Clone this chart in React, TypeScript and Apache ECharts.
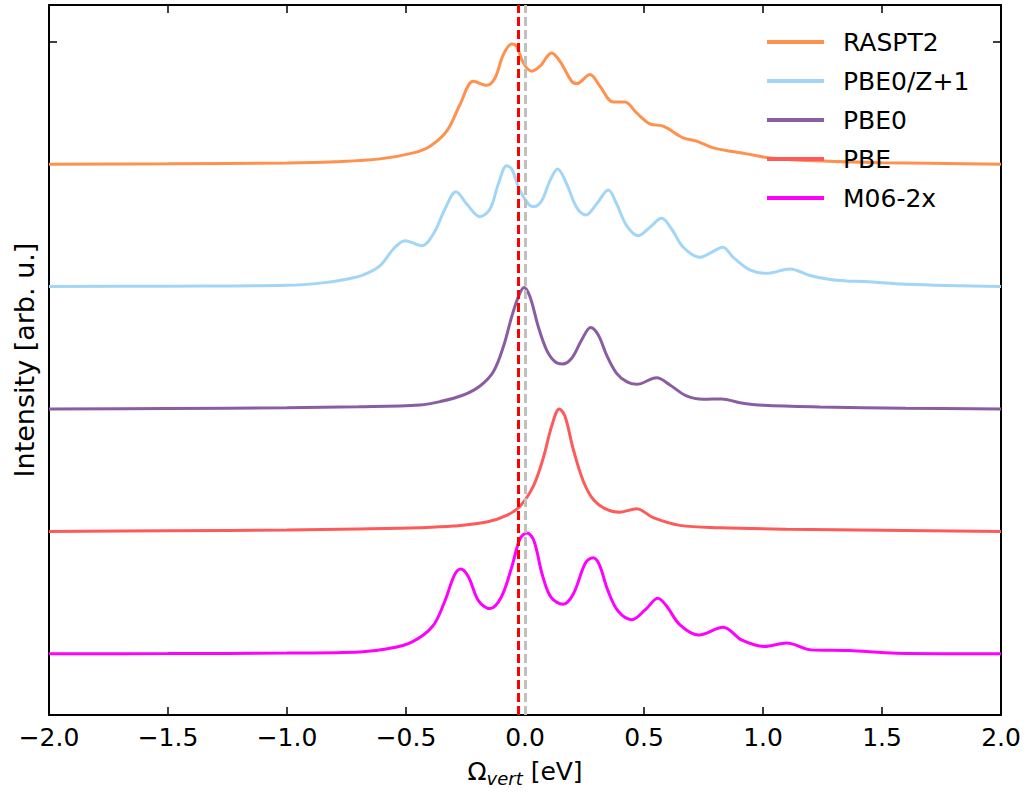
import React, { useEffect, useRef } from "react";
import * as echarts from "echarts";

// x (eV), normalised intensity
const raspt2: number[][] = [
  [-2.0, 0.0], [-1.5, 0.003], [-1.0, 0.01], [-0.8, 0.02], [-0.609, 0.043], [-0.469, 0.092],
  [-0.399, 0.147], [-0.329, 0.269], [-0.273, 0.487], [-0.217, 0.677], [-0.161, 0.644],
  [-0.126, 0.704], [-0.091, 0.895], [-0.056, 0.981], [-0.035, 0.962], [-0.007, 0.826],
  [0.028, 0.759], [0.063, 0.8], [0.112, 0.908], [0.147, 0.84], [0.196, 0.677], [0.217, 0.658],
  [0.273, 0.732], [0.315, 0.636], [0.371, 0.508], [0.42, 0.508], [0.469, 0.418], [0.525, 0.329],
  [0.581, 0.31], [0.665, 0.215], [0.721, 0.188], [0.791, 0.133], [0.931, 0.084], [1.029, 0.051],
  [1.25, 0.025], [1.5, 0.012], [2.0, 0.0],
];
const pbe0z1: number[][] = [
  [-2.0, 0.0], [-1.5, 0.003], [-1.0, 0.01], [-0.85, 0.03], [-0.75, 0.06], [-0.679, 0.095],
  [-0.609, 0.171], [-0.553, 0.307], [-0.504, 0.375], [-0.434, 0.334], [-0.385, 0.43],
  [-0.336, 0.634], [-0.29, 0.775], [-0.245, 0.675], [-0.189, 0.571], [-0.147, 0.634],
  [-0.112, 0.838], [-0.077, 0.987], [-0.056, 0.96], [-0.021, 0.783], [0.014, 0.675],
  [0.038, 0.653], [0.07, 0.701], [0.105, 0.865], [0.137, 0.96], [0.175, 0.838], [0.217, 0.647],
  [0.256, 0.585], [0.301, 0.675], [0.35, 0.789], [0.385, 0.675], [0.427, 0.498], [0.476, 0.416],
  [0.525, 0.484], [0.574, 0.557], [0.616, 0.47], [0.665, 0.321], [0.735, 0.239], [0.784, 0.28],
  [0.831, 0.321], [0.875, 0.239], [0.945, 0.136], [1.016, 0.108], [1.113, 0.144], [1.197, 0.09],
  [1.282, 0.057], [1.35, 0.046], [1.43, 0.042], [1.6, 0.018], [2.0, 0.0],
];
const pbe0: number[][] = [
  [-2.0, 0.0], [-1.5, 0.004], [-1.0, 0.01], [-0.7, 0.018], [-0.441, 0.033], [-0.357, 0.06],
  [-0.259, 0.114], [-0.189, 0.188], [-0.133, 0.304], [-0.091, 0.508], [-0.056, 0.753],
  [-0.028, 0.916], [-0.004, 0.993], [0.021, 0.916], [0.056, 0.671], [0.091, 0.481],
  [0.126, 0.386], [0.158, 0.367], [0.196, 0.414], [0.238, 0.563], [0.276, 0.666], [0.308, 0.604],
  [0.343, 0.44], [0.385, 0.291], [0.427, 0.223], [0.469, 0.201], [0.553, 0.255], [0.609, 0.196],
  [0.679, 0.106], [0.749, 0.079], [0.826, 0.082], [0.903, 0.051], [1.001, 0.03], [1.239, 0.016],
  [1.6, 0.006], [2.0, 0.0],
];
const pbe: number[][] = [
  [-2.0, 0.0], [-1.5, 0.005], [-1.0, 0.012], [-0.7, 0.02], [-0.441, 0.03], [-0.301, 0.043],
  [-0.161, 0.076], [-0.077, 0.13], [-0.021, 0.206], [0.035, 0.37], [0.077, 0.601], [0.112, 0.859],
  [0.144, 1.0], [0.168, 0.94], [0.203, 0.669], [0.245, 0.41], [0.287, 0.261], [0.343, 0.179],
  [0.399, 0.157], [0.469, 0.185], [0.539, 0.112], [0.651, 0.049], [0.819, 0.03], [1.1, 0.018],
  [1.5, 0.01], [2.0, 0.0],
];
const m062x: number[][] = [
  [-2.0, 0.0], [-1.5, 0.002], [-1.0, 0.006], [-0.693, 0.015], [-0.578, 0.041], [-0.476, 0.096],
  [-0.389, 0.223], [-0.339, 0.419], [-0.296, 0.644], [-0.27, 0.692], [-0.238, 0.63],
  [-0.195, 0.433], [-0.147, 0.369], [-0.1, 0.462], [-0.057, 0.7], [-0.021, 0.939], [0.008, 0.986],
  [0.037, 0.925], [0.073, 0.644], [0.109, 0.462], [0.16, 0.405], [0.203, 0.489], [0.254, 0.742],
  [0.286, 0.784], [0.312, 0.728], [0.348, 0.518], [0.391, 0.349], [0.449, 0.279], [0.507, 0.363],
  [0.558, 0.453], [0.594, 0.392], [0.651, 0.237], [0.731, 0.153], [0.832, 0.217], [0.912, 0.111],
  [1.005, 0.06], [1.1, 0.088], [1.201, 0.032], [1.36, 0.026], [1.562, 0.005], [2.0, 0.0],
];

const seriesNames = ["RASPT2", "PBE0/Z+1", "PBE0", "PBE", "M06-2x"];
const seriesData = [raspt2, pbe0z1, pbe0, pbe, m062x];
const seriesOffsets = [4, 3, 2, 1, 0];
const seriesColors = ["#ff914d", "#a3d5f7", "#8a5ca2", "#ff5a5a", "#ff00ff"];
const refLines = [-0.025, 0.0];
const refColors = ["#ff0000", "#c0c0c0"];
const yTickValues = [5];

const FONT = "DejaVu Sans";

export default function App() {
  const ref = useRef<HTMLDivElement>(null);
  useEffect(() => {
    if (!ref.current) return;
    const chart = echarts.init(ref.current, undefined, { renderer: "svg" });
    const axisLineStyle = { color: "#000", width: 2 };
    const tickStyle = { color: "#000", width: 1.5 };
    const series: any[] = seriesNames.map((name, i) => ({
      name,
      type: "line",
      showSymbol: false,
      smooth: 0.35,
      data: seriesData[i].map((p) => [p[0], p[1] + seriesOffsets[i]]),
      lineStyle: { color: seriesColors[i], width: 3 },
      itemStyle: { color: seriesColors[i] },
      z: 2,
    }));
    refLines.forEach((v, i) => {
      series.push({
        name: "ref" + i,
        type: "line",
        data: [],
        z: 5,
        itemStyle: { color: refColors[i] },
        lineStyle: { color: refColors[i] },
        markLine: {
          silent: true,
          symbol: "none",
          label: { show: false },
          emphasis: { disabled: true },
          lineStyle: { color: refColors[i], type: [9, 4], width: 3, opacity: 1 },
          data: [{ xAxis: v }],
        },
      });
    });
    chart.setOption({
      animation: false,
      backgroundColor: "#fff",
      grid: { left: 49, right: 28, top: 5, bottom: 72, containLabel: false },
      legend: {
        data: seriesNames,
        orient: "vertical",
        left: 767,
        top: 27,
        padding: 0,
        itemGap: 9,
        itemWidth: 57,
        itemHeight: 4,
        icon: "rect",
        textStyle: {
          fontFamily: FONT,
          fontSize: 25,
          color: "#000",
          lineHeight: 30,
          padding: [0, 0, 0, 14],
        },
      },
      xAxis: [
        {
          type: "value",
          min: -2,
          max: 2,
          interval: 0.5,
          position: "bottom",
          axisLine: { onZero: false, lineStyle: axisLineStyle },
          axisTick: { inside: true, length: 8, lineStyle: tickStyle },
          splitLine: { show: false },
          axisLabel: {
            fontFamily: FONT,
            fontSize: 25,
            color: "#000",
            margin: 10,
            formatter: (v: number) => (v < 0 ? "\u2212" + Math.abs(v).toFixed(1) : v.toFixed(1)),
          },
          name: "\u03a9{sub|vert} [eV]",
          nameLocation: "middle",
          nameGap: 40,
          nameTextStyle: {
            fontFamily: FONT,
            fontSize: 25,
            color: "#000",
            rich: {
              sub: { fontFamily: FONT, fontSize: 18, fontStyle: "italic", color: "#000", padding: [14, 0, 0, 0] },
            },
          },
        },
        {
          type: "value",
          min: -2,
          max: 2,
          interval: 0.5,
          position: "top",
          axisLine: { onZero: false, lineStyle: axisLineStyle },
          axisTick: { inside: true, length: 8, lineStyle: tickStyle },
          splitLine: { show: false },
          axisLabel: { show: false },
        },
      ],
      yAxis: [
        {
          type: "value",
          min: -0.5,
          max: 5.3,
          position: "left",
          axisLine: { show: true, onZero: false, lineStyle: axisLineStyle },
          axisTick: { show: true, inside: true, length: 8, customValues: yTickValues, lineStyle: tickStyle },
          axisLabel: { show: false },
          splitLine: { show: false },
          name: "Intensity [arb. u.]",
          nameLocation: "middle",
          nameGap: 11,
          nameTextStyle: { fontFamily: FONT, fontSize: 27, color: "#000" },
        },
        {
          type: "value",
          min: -0.5,
          max: 5.3,
          position: "right",
          axisLine: { show: true, onZero: false, lineStyle: axisLineStyle },
          axisTick: { show: true, inside: true, length: 8, customValues: yTickValues, lineStyle: tickStyle },
          axisLabel: { show: false },
          splitLine: { show: false },
        },
      ],
      series,
    });
    return () => chart.dispose();
  }, []);
  return (
    <div
      ref={ref}
      style={{ position: "absolute", left: 0, top: 0, width: 1029, height: 792 }}
    />
  );
}
